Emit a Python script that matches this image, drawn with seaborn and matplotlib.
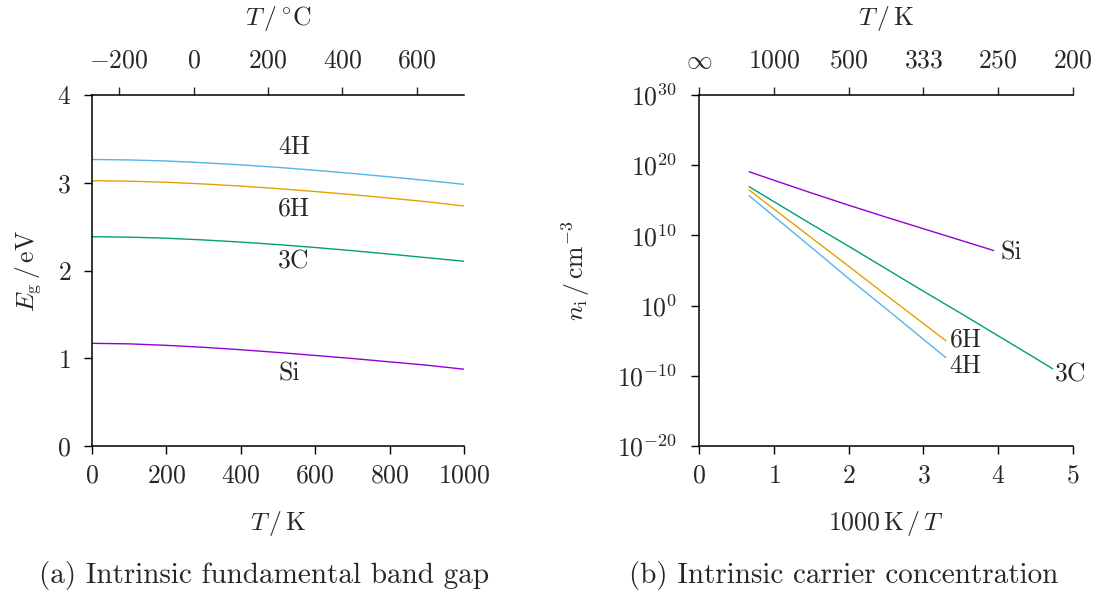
import numpy as np
import pandas as pd
import seaborn as sns
import matplotlib
matplotlib.use("Agg")
import matplotlib.pyplot as plt

# ---------------- Panel (a): band gap vs temperature ----------------
T_K = [0, 100, 200, 300, 400, 500, 600, 700, 800, 900, 1000]
eg_4h = [3.265, 3.260, 3.248, 3.228, 3.204, 3.175, 3.142, 3.106, 3.067, 3.026, 2.982]
eg_6h = [3.023, 3.018, 3.006, 2.986, 2.962, 2.933, 2.900, 2.864, 2.825, 2.784, 2.735]
eg_3c = [2.385, 2.380, 2.368, 2.348, 2.324, 2.295, 2.262, 2.226, 2.187, 2.146, 2.105]
eg_si = [1.170, 1.164, 1.147, 1.125, 1.097, 1.066, 1.032, 0.997, 0.959, 0.921, 0.875]

# ---------------- Panel (b): intrinsic carrier concentration ----------------
# x = 1000 K / T ; values are log10(n_i / cm^-3)
x_si = [0.667, 1.0, 1.5, 2.0, 2.5, 3.0, 3.5, 3.94]
logn_si = [19.07, 17.85, 16.05, 14.30, 12.60, 10.95, 9.30, 7.85]
x_4h = [0.667, 1.0, 1.5, 2.0, 2.5, 3.0, 3.30]
logn_4h = [15.66, 12.70, 8.30, 3.85, -0.45, -4.80, -7.40]
x_6h = [0.667, 1.0, 1.5, 2.0, 2.5, 3.0, 3.30]
logn_6h = [16.47, 13.75, 9.67, 5.60, 1.50, -2.55, -5.00]
x_3c = [0.667, 1.0, 1.5, 2.0, 2.5, 3.0, 3.5, 4.0, 4.5, 4.73]
logn_3c = [16.94, 14.80, 11.60, 8.45, 5.25, 2.05, -1.10, -4.30, -7.50, -9.00]

materials = ["4H", "6H", "3C", "Si"]
colors = {"4H": "#56B4E9", "6H": "#E69F00", "3C": "#009E73", "Si": "#9400D3"}

top_c_ticks = [-200, 0, 200, 400, 600]
top_k_labels = [r"$\infty$", "$1000$", "$500$", "$333$", "$250$", "$200$"]

# ---------------- data frames ----------------
dfa = pd.concat([
    pd.DataFrame({"T": T_K, "Eg": v, "material": m})
    for m, v in zip(materials, [eg_4h, eg_6h, eg_3c, eg_si])
])
dfb = pd.concat([
    pd.DataFrame({"x": xs, "ni": 10.0 ** np.asarray(ls), "material": m})
    for m, xs, ls in zip(materials, [x_4h, x_6h, x_3c, x_si],
                         [logn_4h, logn_6h, logn_3c, logn_si])
])

sns.set_style("ticks")
plt.rcParams.update({
    "font.family": "serif",
    "font.serif": ["cmr10", "DejaVu Serif"],
    "mathtext.fontset": "cm",
    "axes.unicode_minus": False,
    "axes.formatter.use_mathtext": True,
    "font.size": 18.5,
    "axes.linewidth": 1.1,
    "axes.edgecolor": "black",
})

FS = 18.5
CAP_FS = 21
fig = plt.figure(figsize=(11.09, 5.90), dpi=100)
ax1 = fig.add_axes([92 / 1109, 1 - 446 / 590, 372 / 1109, 351 / 590])
ax2 = fig.add_axes([699.3 / 1109, 1 - 446 / 590, 373.5 / 1109, 351 / 590])

for ax in (ax1, ax2):
    ax.spines["right"].set_visible(False)
    ax.spines["top"].set_visible(False)
    ax.tick_params(direction="out", length=6, width=1.0, color="black",
                   labelsize=FS, pad=7)
ax1.tick_params(axis="y", pad=9)
ax2.tick_params(axis="y", pad=10)

# ---- panel (a)
sns.lineplot(data=dfa, x="T", y="Eg", hue="material", palette=colors,
             ax=ax1, legend=False, linewidth=1.0)
ax1.set_xlim(0, 1000)
ax1.set_ylim(0, 4)
ax1.set_xticks([0, 200, 400, 600, 800, 1000])
ax1.set_xticklabels([f"${v}$" for v in [0, 200, 400, 600, 800, 1000]])
ax1.set_yticks([0, 1, 2, 3, 4])
ax1.set_yticklabels([f"${v}$" for v in [0, 1, 2, 3, 4]])
ax1.set_xlabel(r"$T\,/\,\mathrm{K}$", fontsize=FS, labelpad=15)
ax1.set_ylabel(r"$E_\mathrm{g}\,/\,\mathrm{eV}$", fontsize=FS, labelpad=10)

sec1 = ax1.secondary_xaxis("top", functions=(lambda k: k - 273.15, lambda c: c + 273.15))
sec1.set_xticks(top_c_ticks)
sec1.set_xticklabels([f"${v}$" for v in top_c_ticks])
sec1.tick_params(direction="out", length=6, width=1.0, labelsize=FS, pad=10)
sec1.spines["top"].set_linewidth(1.1)
sec1.set_xlabel(r"$T\,/\,{}^{\circ}\mathrm{C}$", fontsize=FS, labelpad=17)

lab_a = {"4H": (500, 3.41), "6H": (500, 2.71), "3C": (500, 2.10), "Si": (500, 0.82)}
for m, (xx, yy) in lab_a.items():
    ax1.text(xx, yy, m, fontsize=FS, ha="left", va="center")

# ---- panel (b)
sns.lineplot(data=dfb, x="x", y="ni", hue="material", palette=colors,
             ax=ax2, legend=False, linewidth=1.0, sort=True)
ax2.set_yscale("log")
ax2.set_xlim(0, 5)
ax2.set_ylim(1e-20, 1e30)
ax2.set_xticks([0, 1, 2, 3, 4, 5])
ax2.set_xticklabels([f"${v}$" for v in range(6)])
exps = [-20, -10, 0, 10, 20, 30]
ax2.set_yticks([10.0 ** e for e in exps])
ax2.set_yticklabels([f"$10^{{{e}}}$" for e in exps])
ax2.minorticks_off()
ax2.set_xlabel(r"$1000\,\mathrm{K}\,/\,T$", fontsize=FS, labelpad=15)
ax2.set_ylabel(r"$n_\mathrm{i}\,/\,\mathrm{cm}^{-3}$", fontsize=FS, labelpad=18)

sec2 = ax2.secondary_xaxis("top")
sec2.set_xticks([0, 1, 2, 3, 4, 5])
sec2.set_xticklabels(top_k_labels)
sec2.tick_params(direction="out", length=6, width=1.0, labelsize=FS, pad=10)
sec2.spines["top"].set_linewidth(1.1)
sec2.set_xlabel(r"$T\,/\,\mathrm{K}$", fontsize=FS, labelpad=17)

lab_b = {"Si": (4.03, 10 ** 7.6), "6H": (3.35, 10 ** -4.9),
         "4H": (3.35, 10 ** -8.6), "3C": (4.76, 10 ** -9.9)}
for m, (xx, yy) in lab_b.items():
    ax2.text(xx, yy, m, fontsize=FS, ha="left", va="center")

fig.text(264 / 1109, 1 - 575 / 590, "(a) Intrinsic fundamental band gap",
         fontsize=CAP_FS, ha="center", va="center")
fig.text(844 / 1109, 1 - 575 / 590, "(b) Intrinsic carrier concentration",
         fontsize=CAP_FS, ha="center", va="center")

fig.savefig("out.png", dpi=100)
